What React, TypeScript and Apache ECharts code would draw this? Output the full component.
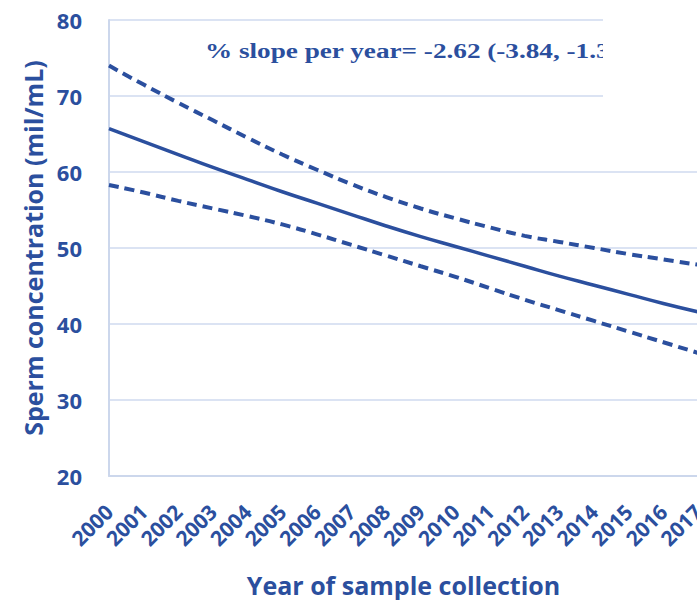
import React, { useEffect, useRef } from "react";
import * as echarts from "echarts";

const years = ["2000","2001","2002","2003","2004","2005","2006","2007","2008","2009","2010","2011","2012","2013","2014","2015","2016","2017"];
const central = [65.7, 64.0, 62.3, 60.6, 59.0, 57.4, 55.9, 54.4, 52.9, 51.5, 50.2, 48.9, 47.6, 46.3, 45.1, 43.9, 42.7, 41.6];
const upper = [74.0, 71.5, 69.1, 66.8, 64.5, 62.3, 60.3, 58.4, 56.7, 55.2, 53.9, 52.7, 51.6, 50.8, 50.0, 49.2, 48.5, 47.8];
const lower = [58.3, 57.3, 56.2, 55.2, 54.2, 53.1, 51.8, 50.4, 49.0, 47.6, 46.2, 44.7, 43.2, 41.8, 40.4, 39.0, 37.6, 36.2];
const annotation = "% slope per year= -2.62 (-3.84, -1.39)";

const BLUE = "#2b4f9e";
const GRID = "#dbe3f3";
const SANS = "'Open Sans', Lato, sans-serif";

export default function App() {
  const ref = useRef<HTMLDivElement>(null);
  useEffect(() => {
    if (!ref.current) return;
    const chart = echarts.init(ref.current, null, { renderer: "svg" });
    chart.setOption({
      animation: false,
      backgroundColor: "#ffffff",
      grid: { left: 109, right: -1, top: 20, bottom: 124, containLabel: false, outerBoundsMode: "none" },
      xAxis: {
        type: "category",
        data: years,
        boundaryGap: false,
        name: "Year of sample collection",
        nameLocation: "middle",
        nameGap: 96,
        nameTextStyle: { color: BLUE, fontSize: 25, fontWeight: "bold", fontFamily: SANS },
        axisLine: { show: true, lineStyle: { color: "#ccd7ec", width: 2 } },
        axisTick: { show: false },
        axisLabel: {
          interval: 0,
          rotate: 45,
          margin: 32,
          color: BLUE,
          fontSize: 21,
          fontWeight: "bold",
          fontFamily: SANS,
        },
        splitLine: { show: false },
      },
      yAxis: {
        type: "value",
        min: 20,
        max: 80,
        interval: 10,
        name: "Sperm concentration (mil/mL)",
        nameLocation: "middle",
        nameGap: 62,
        nameTextStyle: { color: BLUE, fontSize: 25, fontWeight: "bold", fontFamily: SANS },
        axisLine: { show: true, lineStyle: { color: "#ccd7ec", width: 2 } },
        axisTick: { show: false },
        axisLabel: { margin: 27, color: BLUE, fontSize: 22, fontWeight: "bold", fontFamily: SANS },
        splitLine: { show: true, lineStyle: { color: GRID, width: 2 } },
      },
      series: [
        {
          type: "line",
          data: upper,
          symbol: "none",
          smooth: true,
          lineStyle: { color: BLUE, width: 4, type: [10, 6] },
          z: 3,
        },
        {
          type: "line",
          data: central,
          symbol: "none",
          smooth: true,
          lineStyle: { color: BLUE, width: 3.5, type: "solid" },
          z: 3,
        },
        {
          type: "line",
          data: lower,
          symbol: "none",
          smooth: true,
          lineStyle: { color: BLUE, width: 4, type: [10, 6] },
          z: 3,
        },
      ],
      graphic: [
        {
          type: "text",
          x: 205,
          y: 41,
          scaleX: 1.36,
          scaleY: 1,
          z: 10,
          style: {
            x: 0,
            y: 0,
            text: annotation,
            fill: BLUE,
            verticalAlign: "top",
            font: "bold 20px 'Liberation Serif', 'Times New Roman', serif",
          },
        },
        {
          type: "rect",
          shape: { x: 603, y: 0, width: 100, height: 105 },
          z: 20,
          style: { fill: "#ffffff" },
        },
      ],
    });
    return () => chart.dispose();
  }, []);
  return (
    <div
      ref={ref}
      style={{ position: "fixed", left: 0, top: 0, width: 697, height: 600 }}
    />
  );
}
